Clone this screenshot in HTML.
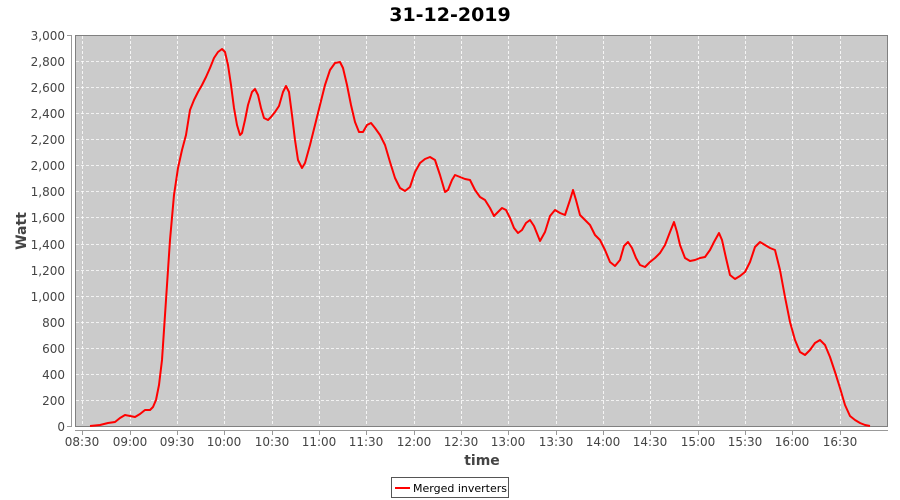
<!DOCTYPE html>
<html><head><meta charset="utf-8"><style>body{margin:0;background:#fff}svg{display:block;font-family:"DejaVu Sans","Liberation Sans",sans-serif}</style></head><body>
<svg width="900" height="500" xmlns="http://www.w3.org/2000/svg">
<text x="450" y="21" text-anchor="middle" font-size="19" font-weight="bold" fill="#000">31-12-2019</text>
<rect x="75.5" y="35.5" width="812" height="391" fill="#cbcbcb" stroke="#808080"/>
<g stroke="#fff" stroke-dasharray="3,2" stroke-width="0.8">
<line x1="76" x2="887" y1="61.5" y2="61.5"/><line x1="76" x2="887" y1="87.5" y2="87.5"/><line x1="76" x2="887" y1="113.5" y2="113.5"/><line x1="76" x2="887" y1="139.5" y2="139.5"/><line x1="76" x2="887" y1="165.5" y2="165.5"/><line x1="76" x2="887" y1="191.5" y2="191.5"/><line x1="76" x2="887" y1="217.5" y2="217.5"/><line x1="76" x2="887" y1="244.5" y2="244.5"/><line x1="76" x2="887" y1="270.5" y2="270.5"/><line x1="76" x2="887" y1="296.5" y2="296.5"/><line x1="76" x2="887" y1="322.5" y2="322.5"/><line x1="76" x2="887" y1="348.5" y2="348.5"/><line x1="76" x2="887" y1="374.5" y2="374.5"/><line x1="76" x2="887" y1="400.5" y2="400.5"/>
<line y1="36" y2="426" x1="82.5" x2="82.5"/><line y1="36" y2="426" x1="130.5" x2="130.5"/><line y1="36" y2="426" x1="177.5" x2="177.5"/><line y1="36" y2="426" x1="224.5" x2="224.5"/><line y1="36" y2="426" x1="272.5" x2="272.5"/><line y1="36" y2="426" x1="319.5" x2="319.5"/><line y1="36" y2="426" x1="366.5" x2="366.5"/><line y1="36" y2="426" x1="414.5" x2="414.5"/><line y1="36" y2="426" x1="461.5" x2="461.5"/><line y1="36" y2="426" x1="508.5" x2="508.5"/><line y1="36" y2="426" x1="556.5" x2="556.5"/><line y1="36" y2="426" x1="603.5" x2="603.5"/><line y1="36" y2="426" x1="650.5" x2="650.5"/><line y1="36" y2="426" x1="698.5" x2="698.5"/><line y1="36" y2="426" x1="745.5" x2="745.5"/><line y1="36" y2="426" x1="792.5" x2="792.5"/><line y1="36" y2="426" x1="840.5" x2="840.5"/>
</g>
<g stroke="#999" fill="none"><line x1="71.5" y1="35" x2="71.5" y2="427"/><line x1="75" y1="430.5" x2="888" y2="430.5"/></g>
<g stroke="#999"><line x1="67" x2="71" y1="35.5" y2="35.5"/><line x1="67" x2="71" y1="426.5" y2="426.5"/>
<line x1="82.5" x2="82.5" y1="431" y2="435"/><line x1="130.5" x2="130.5" y1="431" y2="435"/><line x1="177.5" x2="177.5" y1="431" y2="435"/><line x1="224.5" x2="224.5" y1="431" y2="435"/><line x1="272.5" x2="272.5" y1="431" y2="435"/><line x1="319.5" x2="319.5" y1="431" y2="435"/><line x1="366.5" x2="366.5" y1="431" y2="435"/><line x1="414.5" x2="414.5" y1="431" y2="435"/><line x1="461.5" x2="461.5" y1="431" y2="435"/><line x1="508.5" x2="508.5" y1="431" y2="435"/><line x1="556.5" x2="556.5" y1="431" y2="435"/><line x1="603.5" x2="603.5" y1="431" y2="435"/><line x1="650.5" x2="650.5" y1="431" y2="435"/><line x1="698.5" x2="698.5" y1="431" y2="435"/><line x1="745.5" x2="745.5" y1="431" y2="435"/><line x1="792.5" x2="792.5" y1="431" y2="435"/><line x1="840.5" x2="840.5" y1="431" y2="435"/></g>
<g font-size="12" fill="#444" text-anchor="end">
<text x="65" y="40">3,000</text><text x="65" y="66">2,800</text><text x="65" y="92">2,600</text><text x="65" y="118">2,400</text><text x="65" y="144">2,200</text><text x="65" y="170">2,000</text><text x="65" y="196">1,800</text><text x="65" y="222">1,600</text><text x="65" y="249">1,400</text><text x="65" y="275">1,200</text><text x="65" y="301">1,000</text><text x="65" y="327">800</text><text x="65" y="353">600</text><text x="65" y="379">400</text><text x="65" y="405">200</text><text x="65" y="431">0</text>
</g>
<g font-size="12" fill="#444" text-anchor="middle">
<text x="82" y="446">08:30</text><text x="130" y="446">09:00</text><text x="177" y="446">09:30</text><text x="224" y="446">10:00</text><text x="272" y="446">10:30</text><text x="319" y="446">11:00</text><text x="366" y="446">11:30</text><text x="414" y="446">12:00</text><text x="461" y="446">12:30</text><text x="508" y="446">13:00</text><text x="556" y="446">13:30</text><text x="603" y="446">14:00</text><text x="650" y="446">14:30</text><text x="698" y="446">15:00</text><text x="745" y="446">15:30</text><text x="792" y="446">16:00</text><text x="840" y="446">16:30</text>
</g>
<text x="482" y="465" text-anchor="middle" font-size="14" font-weight="bold" fill="#444">time</text>
<text transform="translate(26,231) rotate(-90)" text-anchor="middle" font-size="14" font-weight="bold" fill="#444">Watt</text>
<polyline fill="none" stroke="#f00" stroke-width="2" stroke-linejoin="round" points="90,426 100,425 108,423 115,422 120,418 125,415 130,416 135,417 140,414 145,410 150,410 153,407 156,400 159,385 162,360 166,300 170,240 174,195 178,168 182,150 186,135 190,110 194,100 198,92 202,85 206,77 210,68 214,58 218,52 222,49 225,52 228,65 231,85 234,108 237,125 240,135 242,133 245,120 248,105 252,92 255,89 258,95 261,108 264,118 268,120 271,117 275,112 279,106 283,92 286,86 289,92 292,115 295,140 298,160 302,168 305,163 310,145 315,125 320,105 325,85 330,70 335,63 340,62 343,68 347,85 351,105 355,122 359,132 363,132 367,125 371,123 375,128 380,135 385,145 390,162 395,178 400,188 405,191 410,187 415,172 420,163 425,159 430,157 435,160 440,175 445,192 448,190 452,180 455,175 460,177 465,179 470,180 475,190 480,197 485,200 490,208 494,216 498,212 502,208 506,210 510,218 514,228 518,233 522,230 526,223 530,220 534,226 540,241 545,232 550,216 555,210 560,213 565,215 570,200 573,190 576,200 580,215 585,220 590,225 595,235 600,240 605,250 610,262 615,266 620,260 624,246 628,242 632,248 636,258 640,265 645,267 650,262 655,258 660,253 665,245 670,232 674,222 677,232 680,245 685,258 690,261 695,260 700,258 705,257 710,250 714,242 719,233 722,240 726,258 730,275 735,279 740,276 745,272 750,262 755,247 760,242 765,245 770,248 775,250 780,270 785,297 790,322 795,340 800,352 805,355 810,350 815,343 820,340 825,345 830,357 835,372 840,388 845,405 850,416 855,420 860,423 865,425 870,426"/>
<rect x="391.5" y="477.5" width="117" height="20" fill="#fff" stroke="#555"/>
<line x1="395" x2="410" y1="488" y2="488" stroke="#f00" stroke-width="2"/>
<text x="413" y="492" font-size="11" fill="#000">Merged inverters</text>
</svg>
</body></html>
